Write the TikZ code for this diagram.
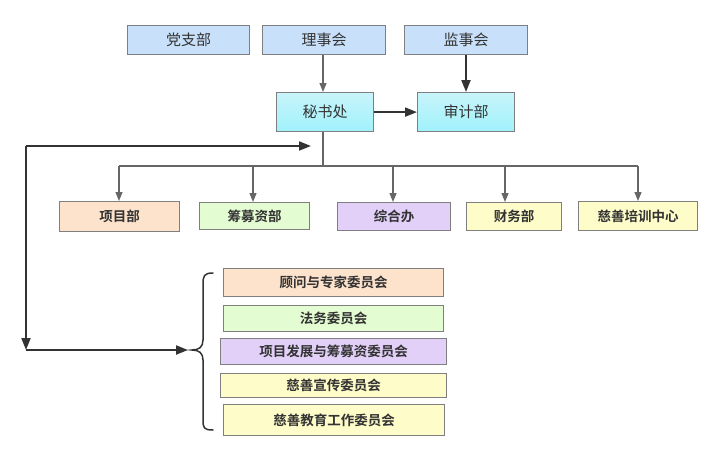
\documentclass[tikz,border=0pt]{standalone}
\usepackage{fontspec}
\setmainfont{Noto Sans CJK SC}
\newfontfamily\cjkb{Noto Sans CJK SC Bold}
\usetikzlibrary{arrows.meta}
\definecolor{bord}{HTML}{7F7F7F}
\definecolor{topblue}{HTML}{C8E0FA}
\definecolor{cyantop}{HTML}{C8F4FA}
\definecolor{cyanbot}{HTML}{A0F2FC}
\definecolor{peach}{HTML}{FDE3CC}
\definecolor{lgreen}{HTML}{E4FCD2}
\definecolor{lav}{HTML}{E2D0F8}
\definecolor{lyel}{HTML}{FEFCC8}
\definecolor{dark}{HTML}{333333}
\definecolor{thin}{HTML}{666666}
\tikzset{
  boxbase/.style={draw=bord, line width=1.2pt, inner sep=0pt, anchor=north west, text=black!80},
  topbox/.style={boxbase, fill=topblue, font=\fontsize{15}{17}\selectfont},
  cyanbox/.style={boxbase, top color=cyantop, bottom color=cyanbot, font=\fontsize{15}{17}\selectfont},
  depbox/.style={boxbase, font=\cjkb\fontsize{13.5}{15}\selectfont},
  thinarrow/.style={draw=thin, line width=1.2pt, -{Triangle[length=9pt,width=7pt]}},
  thickarrow/.style={draw=dark, line width=2pt, -{Triangle[length=12pt,width=9pt]}},
  thinline/.style={draw=thin, line width=1.2pt},
}
\begin{document}
\begin{tikzpicture}[x=1pt,y=-1pt]
\useasboundingbox (0,0) rectangle (722,460);
% top row
\node[topbox, minimum width=122pt, minimum height=29pt] (dzb) at (127,25) {党支部};
\node[topbox, minimum width=123pt, minimum height=29pt] (lsh) at (262,25) {理事会};
\node[topbox, minimum width=123pt, minimum height=29pt] (jsh) at (404,25) {监事会};
% second
\node[cyanbox, minimum width=97pt, minimum height=39pt] (msc) at (276,92) {秘书处};
\node[cyanbox, minimum width=97pt, minimum height=39pt] (sjb) at (417,92) {审计部};
% departments
\node[depbox, fill=peach, minimum width=120pt, minimum height=30pt] (xmb) at (59,201) {项目部};
\node[depbox, fill=lgreen, minimum width=110pt, minimum height=27pt] (cmz) at (199,202) {筹募资部};
\node[depbox, fill=lav, minimum width=113pt, minimum height=28pt] (zhb) at (337,202) {综合办};
\node[depbox, fill=lyel, minimum width=95pt, minimum height=28pt] (cwb) at (466,202) {财务部};
\node[depbox, fill=lyel, minimum width=119pt, minimum height=29pt] (csp) at (578,201) {慈善培训中心};
% committees
\node[depbox, fill=peach, minimum width=220pt, minimum height=28pt] (c1) at (223,268) {顾问与专家委员会};
\node[depbox, fill=lgreen, minimum width=220pt, minimum height=26pt] (c2) at (223,305) {法务委员会};
\node[depbox, fill=lav, minimum width=226pt, minimum height=26pt] (c3) at (220,338) {项目发展与筹募资委员会};
\node[depbox, fill=lyel, minimum width=226pt, minimum height=24pt] (c4) at (220,373) {慈善宣传委员会};
\node[depbox, fill=lyel, minimum width=221pt, minimum height=31pt] (c5) at (223,404) {慈善教育工作委员会};
% connectors top
\draw[thinarrow] (lsh.south -| 323,0) -- (msc.north -| 323,0);
\draw[thickarrow] (jsh.south -| 466,0) -- (sjb.north -| 466,0);
\draw[thickarrow] (msc.east) -- (sjb.west);
% tree
\coordinate (hub) at (323,166);
\draw[thinline] (msc.south -| hub) -- (hub);
\draw[thinline] (119,166) -- (638,166);
\draw[thinarrow] (119,166) -- (xmb.north -| 119,0);
\draw[thinarrow] (253,166) -- (cmz.north -| 253,0);
\draw[thinarrow] (393,166) -- (zhb.north -| 393,0);
\draw[thinarrow] (505,166) -- (cwb.north -| 505,0);
\draw[thinarrow] (638,166) -- (csp.north -| 638,0);
% left loop
\coordinate (lt) at (26,146);
\coordinate (lb) at (26,350);
\coordinate (rt) at (311,146);
\coordinate (btip) at (192,350);
\draw[thickarrow] (lt) -- (rt);
\draw[thickarrow] (lt) -- (lb);
\draw[thickarrow] (lb) -- ([xshift=-4pt]btip);
% brace
\draw[draw=dark, line width=1.5pt, line cap=round]
  (213,273) .. controls (204,273) and (203,276) .. (203,284)
  -- (203,340) .. controls (203,347) and (199,350) .. (btip)
  .. controls (199,350) and (203,353) .. (203,360)
  -- (203,420) .. controls (203,428) and (204,430) .. (213,430);
\end{tikzpicture}
\end{document}
